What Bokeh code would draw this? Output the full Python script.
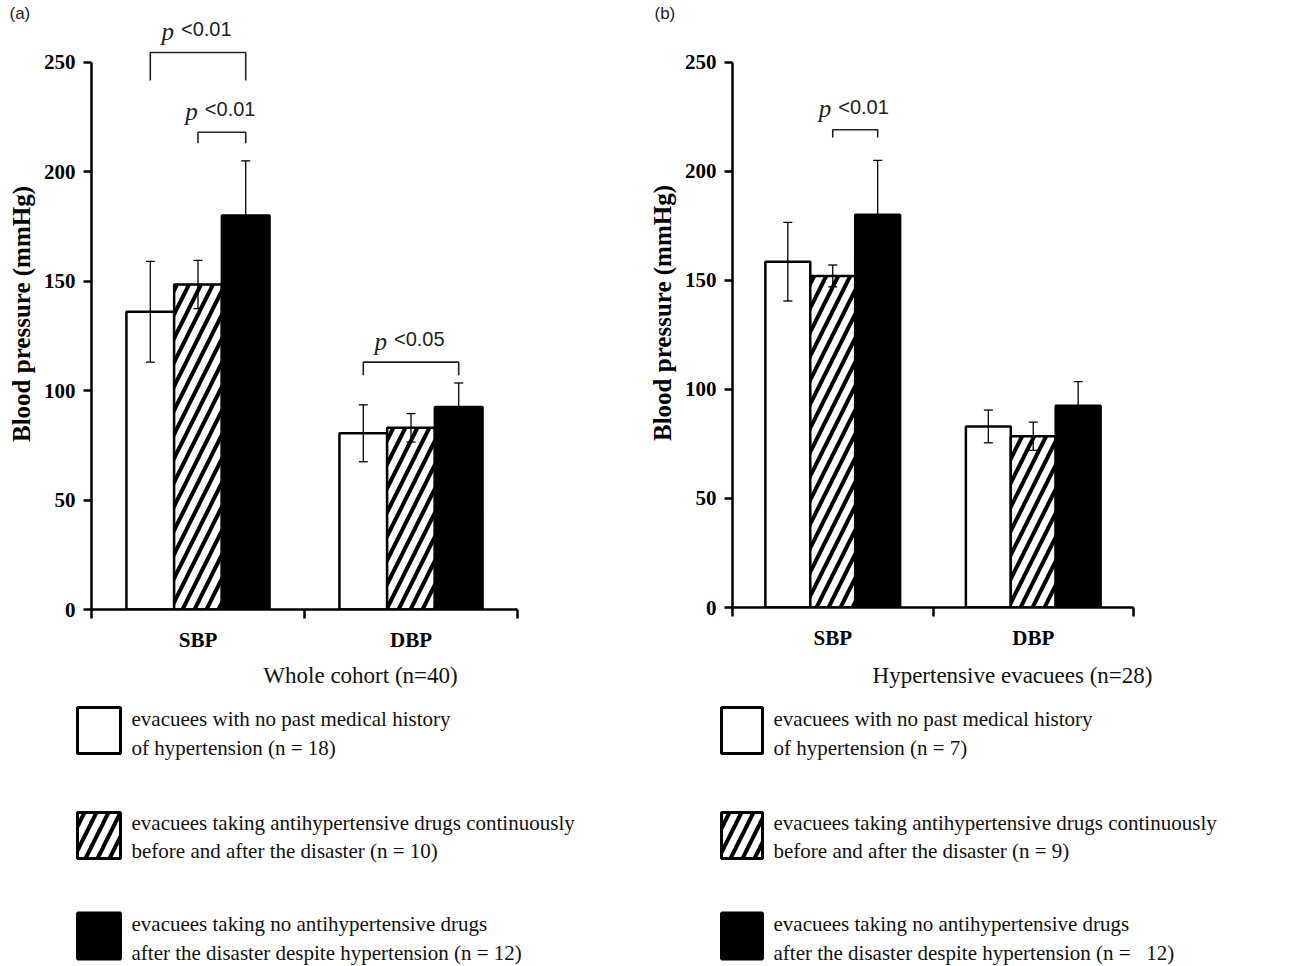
from bokeh.plotting import figure
from bokeh.layouts import row, column
from bokeh.models import Range1d, FixedTicker, Whisker, TeeHead, ColumnDataSource
from bokeh.core.properties import value
from bokeh.embed import file_html
from bokeh.resources import INLINE

# ---------------- data ----------------
categories = ["SBP", "DBP"]
y_ticks = [0, 50, 100, 150, 200, 250]

# (a) Whole cohort (n=40): [no history, continuous drugs, no drugs despite HT]
a_sbp_mean = [136, 148.5, 180]
a_sbp_sd = [23, 11, 25]
a_dbp_mean = [80.5, 83, 92.5]
a_dbp_sd = [13, 6.5, 11]

# (b) Hypertensive evacuees (n=28)
b_sbp_mean = [158.5, 152, 180]
b_sbp_sd = [18, 5, 25]
b_dbp_mean = [83, 78.5, 92.5]
b_dbp_sd = [7.5, 6.5, 11]

# significance brackets: (category index, bar i, bar j, bracket value, leg drop, label)
a_brackets = [(0, 0, 2, 254.5, 12.8, "<0.01"),
              (0, 1, 2, 218.0, 5.0, "<0.01"),
              (1, 0, 2, 113.0, 6.0, "<0.05")]
b_brackets = [(0, 1, 2, 219.0, 3.5, "<0.01")]

a_subtitle = "Whole cohort (n=40)"
b_subtitle = "Hypertensive evacuees (n=28)"

a_legend = [["evacuees with no past medical history", "of hypertension (n = 18)"],
            ["evacuees taking antihypertensive drugs continuously", "before and after the disaster (n = 10)"],
            ["evacuees taking no antihypertensive drugs", "after the disaster despite hypertension (n = 12)"]]
b_legend = [["evacuees with no past medical history", "of hypertension (n = 7)"],
            ["evacuees taking antihypertensive drugs continuously", "before and after the disaster (n = 9)"],
            ["evacuees taking no antihypertensive drugs", "after the disaster despite hypertension (n =\u00a0\u00a0 12)"]]

BW = 0.224
SERIF = "Liberation Serif"
SANS = "Liberation Sans"
HATCH = dict(hatch_pattern="/", hatch_color="black", hatch_scale=24, hatch_weight=4)
STYLES = [dict(fill_color="white"),
          dict(fill_color="white", **HATCH),
          dict(fill_color="black")]

CHART_H = 655
LEG_H = 310


def no_align(p):
    try:
        p.frame_align = False
    except Exception:
        pass


def bar_x(cat, i):
    return cat + 0.5 + (i - 1) * BW


def chart(sbp_m, sbp_sd, dbp_m, dbp_sd, brackets, width, bl, frame_w, bb, panel_label):
    p = figure(width=width, height=CHART_H, x_range=Range1d(0, 2), y_range=Range1d(0, 270),
               output_backend="svg", toolbar_location=None, title=panel_label,
               min_border_left=bl, min_border_right=width - bl - frame_w,
               min_border_top=18, min_border_bottom=bb)
    no_align(p)
    p.outline_line_color = None
    p.grid.visible = False
    p.title.align = "left"
    p.title.vertical_align = "bottom"
    p.title.text_font = SANS
    p.title.text_font_style = "normal"
    p.title.text_font_size = "17px"
    p.title.text_color = "#222222"
    p.title.offset = 9 - bl
    try:
        p.title.standoff = -9
    except Exception:
        p.title.standoff = 0

    for i in range(3):
        xs = [bar_x(0, i), bar_x(1, i)]
        tops = [sbp_m[i], dbp_m[i]]
        sds = [sbp_sd[i], dbp_sd[i]]
        src = ColumnDataSource(dict(x=xs, top=tops,
                                    upper=[t + s for t, s in zip(tops, sds)],
                                    lower=[t - s for t, s in zip(tops, sds)]))
        p.vbar(x="x", top="top", bottom=0, width=BW, source=src,
               line_color="black", line_width=2.5, **STYLES[i])
        w = Whisker(base="x", upper="upper", lower="lower", source=src,
                    line_color="black", line_width=1.3, level="annotation",
                    upper_head=TeeHead(size=9, line_width=1.3, line_color="black"),
                    lower_head=TeeHead(size=9, line_width=1.3, line_color="black"))
        p.add_layout(w)

    for cat, i, j, yv, drop, lab in brackets:
        x0, x1 = bar_x(cat, i), bar_x(cat, j)
        p.line(x=[x0, x0, x1, x1], y=[yv - drop, yv, yv, yv - drop],
               line_color="#222222", line_width=1.6)
        xc = (x0 + x1) / 2
        p.text(x=[xc], y=[yv], text=["p"], text_font=value(SERIF), text_font_style="italic",
               text_font_size="25px", text_align="right", text_baseline="middle",
               x_offset=-24, y_offset=-21, text_color="#222222")
        p.text(x=[xc], y=[yv], text=[lab], text_font=value(SANS),
               text_font_size="20px", text_align="left", text_baseline="middle",
               x_offset=-17, y_offset=-23, text_color="#222222")

    yax = p.yaxis[0]
    yax.ticker = FixedTicker(ticks=y_ticks)
    yax.bounds = (0, 250)
    yax.axis_line_width = 2.5
    yax.major_tick_line_width = 2.5
    yax.major_tick_out = 8
    yax.major_tick_in = 0
    yax.minor_tick_out = 0
    yax.major_label_standoff = 8
    yax.major_label_text_font = SERIF
    yax.major_label_text_font_style = "bold"
    yax.major_label_text_font_size = "21px"
    yax.major_label_text_color = "black"
    yax.axis_label = "Blood pressure (mmHg)"
    yax.axis_label_text_font = SERIF
    yax.axis_label_text_font_style = "bold"
    yax.axis_label_text_font_size = "25px"
    yax.axis_label_standoff = 6
    yax.axis_label_text_color = "black"

    xax = p.xaxis[0]
    xax.ticker = FixedTicker(ticks=[0.5, 1.5], minor_ticks=[0, 1, 2])
    xax.major_label_overrides = {0.5: categories[0], 1.5: categories[1]}
    xax.bounds = (0, 2)
    xax.axis_line_width = 2.5
    xax.major_tick_out = 0
    xax.major_tick_in = 0
    xax.minor_tick_out = 9
    xax.minor_tick_in = 0
    xax.minor_tick_line_width = 2.5
    xax.major_label_standoff = 9
    xax.major_label_text_font = SERIF
    xax.major_label_text_font_style = "bold"
    xax.major_label_text_font_size = "21px"
    xax.major_label_text_color = "black"
    return p


def legend_fig(width, subtitle, sub_x, labels, sw_x, sw_w, txt_x):
    p = figure(width=width, height=LEG_H, x_range=Range1d(0, width), y_range=Range1d(LEG_H, 0),
               output_backend="svg", toolbar_location=None, min_border=0,
               x_axis_location=None, y_axis_location=None)
    no_align(p)
    p.grid.visible = False
    p.outline_line_color = None
    p.text(x=[sub_x], y=[20], text=[subtitle], text_font=value(SERIF), text_font_size="23px",
           text_align="center", text_baseline="middle", text_color="#111111")
    sw_y = [75, 180, 280.5]
    line_y = [(63, 92), (167, 195), (268, 297)]
    for k in range(3):
        p.rect(x=[sw_x], y=[sw_y[k]], width=sw_w, height=46, line_color="black",
               line_width=3, **STYLES[k])
        for ln, yy in zip(labels[k], line_y[k]):
            p.text(x=[txt_x], y=[yy], text=[ln], text_font=value(SERIF), text_font_size="21px",
                   text_align="left", text_baseline="middle", text_color="#111111")
    return p


chart_a = chart(a_sbp_mean, a_sbp_sd, a_dbp_mean, a_dbp_sd, a_brackets, 645, 91, 426, 46, "(a)")
chart_b = chart(b_sbp_mean, b_sbp_sd, b_dbp_mean, b_dbp_sd, b_brackets, 650, 87, 401, 48, "(b)")
leg_a = legend_fig(645, a_subtitle, 360, a_legend, 98.5, 43, 131)
leg_b = legend_fig(650, b_subtitle, 367, b_legend, 96.5, 41, 128)

layout = row(column(chart_a, leg_a), column(chart_b, leg_b))
open("out.html", "w").write(file_html(layout, INLINE))
